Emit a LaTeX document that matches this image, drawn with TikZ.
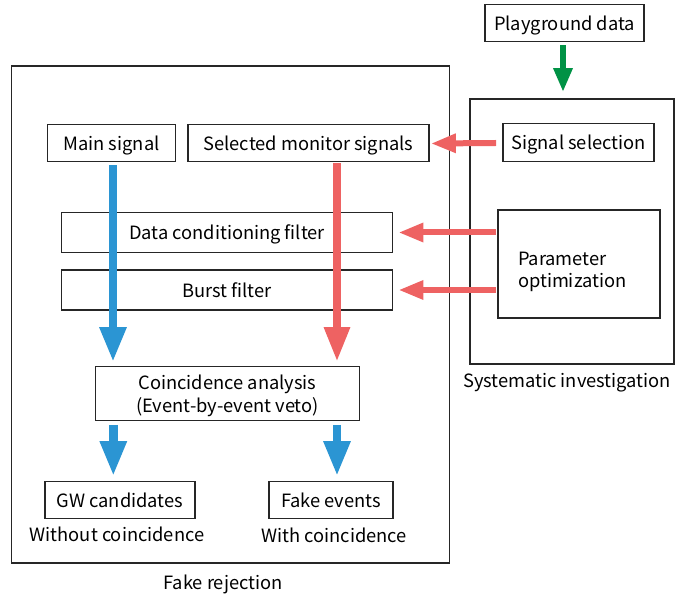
\documentclass[tikz,border=0pt]{standalone}
\usepackage{fontspec}
\setmainfont{Noto Sans CJK JP}
\usetikzlibrary{arrows.meta,calc}
\definecolor{arrblue}{HTML}{2B95D3}
\definecolor{arrred}{HTML}{EE6262}
\definecolor{arrgreen}{HTML}{009245}
\tikzset{
  box/.style={draw=black!85, line width=1.8pt, inner sep=0pt, text depth=0pt, font=\fontsize{18.3}{22.5}\selectfont},
  frame/.style={draw=black!85, line width=1.8pt, inner sep=0pt},
  lbl/.style={inner sep=0pt, font=\fontsize{18.3}{22.5}\selectfont},
  bluev/.style={arrblue, line width=8.5pt, -{Triangle[length=35pt,width=25pt]}},
  redv/.style={arrred, line width=8.5pt, -{Triangle[length=35pt,width=24pt]}},
  redh/.style={arrred, line width=6pt, -{Triangle[length=25pt,width=18pt]}},
  greenv/.style={arrgreen, line width=6pt, -{Triangle[length=24pt,width=18pt]}},
}
\begin{document}
\begin{tikzpicture}[x=1pt,y=-1pt]
\useasboundingbox (0,0) rectangle (677,601);
% frames
\node[frame, minimum width=438pt, minimum height=497pt] (fake) at (230.5,314.5) {};
\node[frame, minimum width=204pt, minimum height=265pt] (sys) at (572,231.5) {};
% boxes
\node[box, minimum width=159pt, minimum height=37pt] (play) at (564.5,23) {Playground data};
\node[box, minimum width=128pt, minimum height=37pt] (main) at (111.5,143) {Main signal};
\node[box, minimum width=241pt, minimum height=37pt] (sel) at (308.5,143) {Selected monitor signals};
\node[box, minimum width=151pt, minimum height=38pt] (ssel) at (578.5,142.5) {Signal selection};
\node[box, minimum width=331pt, minimum height=40pt] (dcf) at (227,232.5) {Data conditioning filter};
\node[box, minimum width=331pt, minimum height=40pt] (bf) at (227,290) {Burst filter};
\node[box, minimum height=108pt, inner xsep=20pt, text width=122pt, text depth=11pt, align=left] (par) at (579,264) {Parameter\\optimization};
\node[box, minimum width=264pt, minimum height=54pt, align=center] (coinc) at (227.5,393.5) {Coincidence analysis\\(Event-by-event veto)};
\node[box, minimum width=150pt, minimum height=37pt] (gw) at (120,500) {GW candidates};
\node[box, minimum width=124pt, minimum height=37pt] (fev) at (331,500) {Fake events};
% labels
\node[lbl] (l1) at (117,534) {Without coincidence};
\node[lbl] (l2) at (334,535) {With coincidence};
\node[lbl] (l3) at (223,584) {Fake rejection};
\node[lbl, anchor=west] (l4) at (463,383) {Systematic investigation};
% arrows
\draw[greenv] ($(play.south)+(-1.5,3)$) -- ($(sys.north)+(-9,-6)$);
\draw[redh] ($(ssel.west)+(-6,0.5)$) -- ($(sel.east)+(1,0.5)$);
\draw[redh] ($(par.west |- dcf.east)+(-1,0)$) -- ($(dcf.east)+(5,0)$);
\draw[redh] ($(par.west |- bf.east)+(-1,0)$) -- ($(bf.east)+(5,0)$);
\draw[bluev] ($(main.south)+(1.5,3)$) -- ($(main.south |- coinc.north)+(1.5,-3.5)$);
\draw[redv] ($(sel.south)+(28.5,1)$) -- ($(sel.south |- coinc.north)+(28.5,-3.5)$);
\draw[bluev] ($(coinc.south -| gw.north)+(-6.7,3.5)$) -- ($(gw.north)+(-6.7,-4.5)$);
\draw[bluev] ($(coinc.south -| fev.north)+(6,3.5)$) -- ($(fev.north)+(6,-4.5)$);
\end{tikzpicture}
\end{document}
